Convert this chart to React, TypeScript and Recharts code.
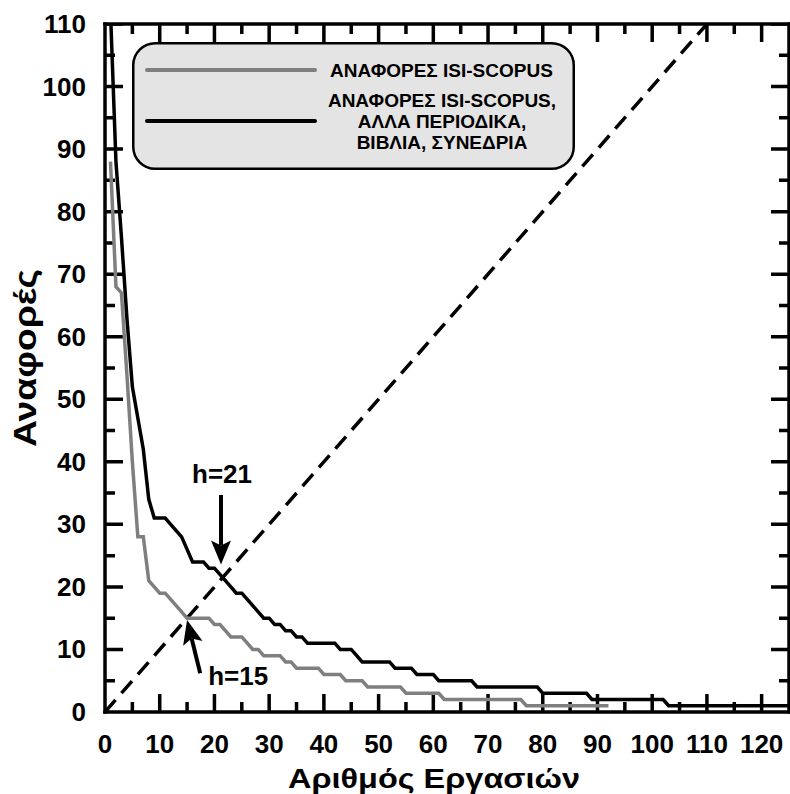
import React from 'react';
import { LineChart, Line, XAxis, YAxis, ReferenceLine, Legend } from 'recharts';

// citations per paper, sorted (rank 1..n)
const allCitations = [
  112, 88, 76, 63, 52, 47, 42, 34, 31, 31,
  31, 30, 29, 28, 26, 24, 24, 24, 23, 23,
  22, 21, 20, 19, 19, 18, 17, 16, 15, 15,
  14, 14, 13, 13, 12, 12, 11, 11, 11, 11,
  11, 11, 10, 10, 10, 9, 8, 8, 8, 8,
  8, 8, 7, 7, 7, 7, 6, 6, 6, 6,
  5, 5, 5, 5, 5, 5, 5, 4, 4, 4,
  4, 4, 4, 4, 4, 4, 4, 4, 4, 3,
  3, 3, 3, 3, 3, 3, 3, 3, 2, 2,
  2, 2, 2, 2, 2, 2, 2, 2, 2, 2,
  2, 2, 1, 1, 1, 1, 1, 1, 1, 1,
  1, 1, 1, 1, 1, 1, 1, 1, 1, 1,
  1, 1, 1, 1, 1,
];

const isiCitations = [
  88, 68, 67, 54, 40, 28, 28, 21, 20, 19,
  19, 18, 17, 16, 15, 15, 15, 15, 15, 14,
  14, 13, 12, 12, 12, 11, 10, 10, 9, 9,
  9, 9, 8, 8, 7, 7, 7, 7, 7, 6,
  6, 6, 6, 5, 5, 5, 5, 4, 4, 4,
  4, 4, 4, 4, 3, 3, 3, 3, 3, 3,
  3, 2, 2, 2, 2, 2, 2, 2, 2, 2,
  2, 2, 2, 2, 2, 2, 1, 1, 1, 1,
  1, 1, 1, 1, 1, 1, 1, 1, 1, 1,
  1, 1,
];

const xMajor = [0, 10, 20, 30, 40, 50, 60, 70, 80, 90, 100, 110, 120];
const xMinor = [5, 15, 25, 35, 45, 55, 65, 75, 85, 95, 105, 115];
const yMajor = [0, 10, 20, 30, 40, 50, 60, 70, 80, 90, 100, 110];
const yMinor = [5, 15, 25, 35, 45, 55, 65, 75, 85, 95, 105];

const diagonal = [
  { x: 0, diag: 0 },
  { x: 110, diag: 110 },
];

const SERIES_ISI = 'ΑΝΑΦΟΡΕΣ ISI-SCOPUS';
const SERIES_ALL = ['ΑΝΑΦΟΡΕΣ ISI-SCOPUS,', 'ΑΛΛΑ ΠΕΡΙΟΔΙΚΑ,', 'ΒΙΒΛΙΑ, ΣΥΝΕΔΡΙΑ'];

const data = allCitations.map((v, i) => ({ x: i + 1, all: v, isi: isiCitations[i] }));

const FONT = '"Liberation Sans", Arial, sans-serif';
const GRAY = '#7f7f7f';
const AXIS_W = 3.5;
const X_MAX = 125;
const Y_MAX = 110;
const X_DOMAIN: [number, number] = [0, X_MAX];
const Y_DOMAIN: [number, number] = [0, Y_MAX];
const tickText = { fontFamily: FONT, fontWeight: 700, fontSize: 26, fill: '#000' };
const axisLine = { stroke: '#000', strokeWidth: AXIS_W, strokeLinecap: 'square' as const };

// plot box is 684 x 688 px; inward tick marks (18 px major, 10 px minor) as a broken line series
const PX_PER_X = 684 / X_MAX;
const PX_PER_Y = 688 / Y_MAX;
const tickPx = (v: number) => (v % 10 === 0 ? 18 : 10);
const tickMarks: { x: number; t: number | null }[] = [];
[...xMajor, ...xMinor]
  .filter((v) => v > 0)
  .forEach((v) => {
    const n = tickPx(v) / PX_PER_Y;
    tickMarks.push({ x: v, t: 0 }, { x: v, t: n }, { x: v, t: null });
    tickMarks.push({ x: v, t: Y_MAX - n }, { x: v, t: Y_MAX }, { x: v, t: null });
  });
[...yMajor, ...yMinor]
  .filter((v) => v > 0)
  .forEach((v) => {
    const n = tickPx(v) / PX_PER_X;
    tickMarks.push({ x: 0, t: v }, { x: n, t: v }, { x: n, t: null });
    tickMarks.push({ x: X_MAX - n, t: v }, { x: X_MAX, t: v }, { x: X_MAX, t: null });
  });

function BottomLabel({ x, y, payload }: any) {
  return (
    <text x={x} y={y + 41} textAnchor="middle" style={tickText}>
      {payload.value}
    </text>
  );
}

function LeftLabel({ x, y, payload }: any) {
  return (
    <text x={x - 19} y={y + 9} textAnchor="end" style={tickText}>
      {payload.value}
    </text>
  );
}

// arrow with its "h=" caption, drawn by ReferenceLine
const arrow = (label: string, dx: number, dy: number, anchor: string) => (p: any) => {
  const { x1, y1, x2, y2 } = p;
  const len = Math.hypot(x2 - x1, y2 - y1);
  const ux = (x2 - x1) / len;
  const uy = (y2 - y1) / len;
  const hl = 24;
  const hw = 10;
  const bx = x2 - ux * hl;
  const by = y2 - uy * hl;
  const nx = bx + ux * 5;
  const ny = by + uy * 5;
  const pts = `${x2},${y2} ${bx - uy * hw},${by + ux * hw} ${nx},${ny} ${bx + uy * hw},${by - ux * hw}`;
  return (
    <g>
      <line x1={x1} y1={y1} x2={nx} y2={ny} stroke="#000" strokeWidth={4} />
      <polygon points={pts} fill="#000" />
      <text x={x1 + dx} y={y1 + dy} textAnchor={anchor as any} style={{ fontFamily: FONT, fontWeight: 700, fontSize: 26, fill: '#000' }}>
        {label}
      </text>
    </g>
  );
};

function LegendBox() {
  const t = { fontFamily: FONT, fontWeight: 700, fontSize: 19, fill: '#000' };
  return (
    <svg width={443} height={128} style={{ display: 'block' }}>
      <rect x={1.25} y={1.25} width={440.5} height={125.5} rx={22} fill="#e4e4e4" stroke="#000" strokeWidth={2.5} />
      <line x1={15} x2={183} y1={28} y2={28} stroke={GRAY} strokeWidth={4} strokeLinecap="round" />
      <line x1={15} x2={183} y1={79} y2={79} stroke="#000" strokeWidth={4} strokeLinecap="round" />
      <text x={198} y={35} style={t}>
        {SERIES_ISI}
      </text>
      {SERIES_ALL.map((s, i) => (
        <text key={s} x={310} y={65 + i * 21} textAnchor="middle" style={t}>
          {s}
        </text>
      ))}
    </svg>
  );
}

export default function App() {
  return (
    <div style={{ position: 'absolute', left: 0, top: 0, width: 790, height: 794, background: '#fff' }}>
      <LineChart width={790} height={794} data={data} margin={{ top: 24, right: 1, bottom: 0, left: 0 }}>
        <XAxis
          dataKey="x"
          type="number"
          domain={X_DOMAIN}
          allowDataOverflow
          ticks={xMajor}
          interval={0}
          height={82}
          tickSize={0}
          tickMargin={0}
          tickLine={false}
          axisLine={axisLine}
          tick={<BottomLabel />}
          label={{
            content: ({ viewBox }: any) => (
              <text
                x={434}
                y={viewBox.y + viewBox.height - 6}
                textAnchor="middle"
                textLength={292}
                lengthAdjust="spacingAndGlyphs"
                style={{ fontFamily: FONT, fontWeight: 700, fontSize: 28, fill: '#000' }}
              >
                Αριθμός Εργασιών
              </text>
            ),
          }}
        />
        <YAxis
          type="number"
          domain={Y_DOMAIN}
          allowDataOverflow
          ticks={yMajor}
          interval={0}
          width={105}
          tickSize={0}
          tickMargin={0}
          tickLine={false}
          axisLine={axisLine}
          tick={<LeftLabel />}
          label={{
            content: () => {
              const cx = 36;
              const cy = 358;
              return (
                <text
                  x={cx}
                  y={cy}
                  transform={`rotate(-90 ${cx} ${cy})`}
                  textAnchor="middle"
                  textLength={178}
                  lengthAdjust="spacingAndGlyphs"
                  style={{ fontFamily: FONT, fontWeight: 700, fontSize: 32, fill: '#000' }}
                >
                  Αναφορές
                </text>
              );
            },
          }}
        />
        <Line
          data={tickMarks}
          dataKey="t"
          stroke="#000"
          strokeWidth={AXIS_W}
          dot={false}
          activeDot={false}
          connectNulls={false}
          isAnimationActive={false}
          legendType="none"
        />
        <Line
          data={diagonal}
          dataKey="diag"
          stroke="#000"
          strokeWidth={3.5}
          strokeDasharray="16 9"
          dot={false}
          isAnimationActive={false}
          legendType="none"
        />
        <Line dataKey="isi" name={SERIES_ISI} stroke={GRAY} strokeWidth={3.5} dot={false} isAnimationActive={false} />
        <Line dataKey="all" name={SERIES_ALL.join(' ')} stroke="#000" strokeWidth={3.5} dot={false} isAnimationActive={false} />
        {/* frame: top and right edges */}
        <ReferenceLine y={Y_MAX} stroke="#000" strokeWidth={AXIS_W} strokeLinecap="square" />
        <ReferenceLine x={X_MAX} stroke="#000" strokeWidth={AXIS_W} strokeLinecap="square" />
        <ReferenceLine
          segment={[
            { x: 21.2, y: 34.7 },
            { x: 21.2, y: 23.6 },
          ]}
          shape={arrow('h=21', 1, -12, 'middle')}
        />
        <ReferenceLine
          segment={[
            { x: 17.4, y: 6.2 },
            { x: 15.0, y: 14.7 },
          ]}
          shape={arrow('h=15', 8, 12, 'start')}
        />
        <Legend
          layout="vertical"
          align="center"
          verticalAlign="middle"
          wrapperStyle={{ position: 'absolute', left: 132, top: 42, width: 443, height: 128 }}
          content={() => <LegendBox />}
        />
      </LineChart>
    </div>
  );
}
